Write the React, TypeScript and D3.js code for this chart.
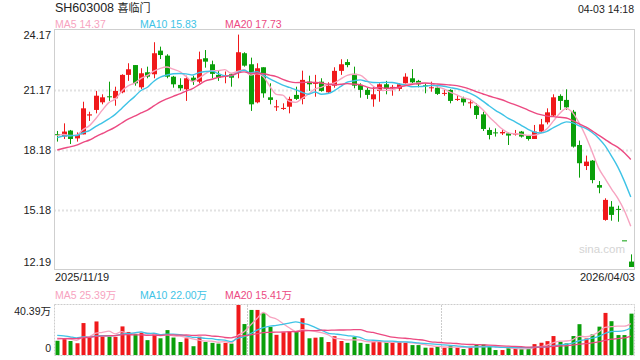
import React from 'react';
import * as d3 from 'd3';

const titleCode = 'SH603008';
const titleName = '喜临门';
const timeLabel = '04-03 14:18';
const dateLabels = ['2025/11/19', '2026/04/03'];
const priceTicks = [24.17, 21.175, 18.18, 15.185, 12.19];
const priceTickLabels = ['24.17', '21.17', '18.18', '15.18', '12.19'];
const volTicks = [40.39, 0];
const volTickLabels = ['40.39万', '0'];
const maNames = ['MA5', 'MA10', 'MA20'];
const maPeriods = [5, 10, 20];
const priceMaLabels = ['14.37', '15.83', '17.73'];
const volMaLabels = ['25.39万', '22.00万', '15.41万'];

const opens = [
  18.97, 18.85, 19.15, 18.76, 18.96, 19.90, 20.18, 20.56, 20.86, 20.76,
  21.06, 21.93, 22.42, 21.31, 22.06, 21.96, 23.14, 22.89, 21.84, 21.43,
  21.21, 21.79, 21.59, 22.76, 22.46, 21.93, 21.84, 21.96, 22.09, 23.01,
  22.46, 20.56, 22.31, 20.81, 20.33, 20.24, 20.34, 20.93, 20.73, 21.59,
  21.48, 21.59, 21.06, 21.39, 22.13, 22.57, 21.98, 21.43, 21.18, 20.71,
  21.13, 21.46, 21.26, 21.23, 21.51, 21.76, 21.63, 21.41, 21.28, 21.29,
  20.99, 21.18, 20.69, 20.76, 20.51, 20.38, 19.96, 19.18, 19.06, 19.01,
  19.01, 18.96, 19.10, 18.88, 18.73, 19.10, 19.56, 19.90, 20.88, 20.68,
  20.09, 18.43, 17.38, 17.65, 16.43, 14.69, 15.35, 15.24, 13.67, 12.61,
];
const highs = [
  19.13, 19.51, 19.18, 19.06, 20.59, 20.09, 21.13, 20.96, 21.59, 21.34,
  21.96, 22.51, 22.42, 22.26, 22.34, 23.56, 23.34, 22.96, 21.88, 21.76,
  21.89, 21.89, 23.09, 23.17, 22.64, 22.17, 22.10, 22.01, 23.94, 23.06,
  22.79, 22.51, 22.31, 21.51, 20.68, 20.51, 20.84, 21.34, 22.14, 21.89,
  21.93, 21.76, 21.56, 22.31, 22.71, 22.71, 22.34, 21.51, 21.29, 21.34,
  21.51, 21.63, 21.43, 21.51, 22.01, 22.22, 21.68, 21.51, 21.59, 21.39,
  21.18, 21.21, 20.93, 20.84, 20.73, 20.51, 20.09, 19.30, 19.26, 19.21,
  19.05, 19.18, 19.13, 18.93, 19.43, 19.73, 20.26, 20.96, 20.96, 21.21,
  20.18, 18.65, 17.90, 17.68, 16.63, 15.77, 15.63, 15.40, 13.67, 12.97,
];
const lows = [
  18.60, 18.73, 18.48, 18.60, 18.96, 19.63, 20.01, 20.46, 20.63, 20.39,
  21.01, 21.63, 21.39, 21.23, 21.76, 21.76, 22.72, 21.76, 21.29, 21.14,
  20.63, 21.43, 21.51, 22.29, 21.76, 21.63, 21.51, 21.34, 21.76, 22.34,
  20.13, 20.51, 20.79, 20.46, 20.13, 20.18, 20.01, 20.68, 20.46, 21.13,
  20.84, 21.09, 21.01, 21.29, 21.93, 22.31, 21.26, 20.79, 20.73, 20.34,
  20.59, 20.96, 20.89, 21.13, 21.48, 21.43, 21.31, 21.01, 21.09, 20.93,
  20.89, 20.51, 20.63, 20.39, 20.26, 19.73, 19.13, 18.71, 18.85, 18.93,
  18.43, 18.90, 18.80, 18.65, 18.73, 19.06, 19.46, 19.84, 20.18, 20.18,
  18.30, 16.80, 17.18, 16.52, 16.02, 14.65, 14.65, 14.60, 13.67, 12.34,
];
const closes = [
  18.95, 19.10, 18.73, 18.93, 20.26, 19.96, 20.89, 20.81, 20.81, 21.13,
  21.93, 22.21, 21.51, 22.01, 21.84, 23.01, 22.92, 21.84, 21.46, 21.26,
  21.76, 21.63, 22.71, 22.59, 21.98, 21.79, 21.89, 21.79, 23.06, 22.39,
  20.46, 22.26, 21.01, 20.68, 20.36, 20.28, 20.73, 20.73, 21.68, 21.46,
  21.54, 21.13, 21.39, 22.13, 22.46, 22.42, 21.39, 21.18, 20.93, 20.96,
  21.46, 21.26, 21.33, 21.46, 21.84, 21.56, 21.46, 21.36, 21.31, 20.98,
  21.03, 20.63, 20.73, 20.56, 20.56, 19.93, 19.23, 18.93, 19.03, 19.08,
  18.90, 19.00, 18.85, 18.73, 19.10, 19.46, 20.06, 20.81, 20.63, 20.31,
  18.35, 17.52, 17.60, 16.68, 16.30, 15.69, 14.94, 15.20, 13.67, 12.34,
];
// volume in 万
const volumes = [
  11.5, 13.5, 11.3, 9.5, 25.8, 14.2, 27.1, 14.7, 14.7, 14.7,
  23.1, 18.6, 16.8, 17.8, 12.0, 17.7, 13.5, 20.1, 14.1, 10.5,
  13.5, 7.1, 14.8, 10.5, 9.8, 9.2, 9.8, 9.2, 40.39, 25.0,
  36.4, 36.4, 33.7, 22.6, 16.3, 18.4, 19.0, 19.0, 29.7, 13.5,
  14.0, 14.4, 10.5, 15.2, 11.3, 9.8, 14.4, 9.8, 9.0, 10.6,
  10.8, 10.6, 9.9, 10.6, 9.9, 8.0, 8.0, 5.9, 5.9, 6.7,
  5.9, 7.5, 5.9, 4.8, 5.9, 8.6, 8.6, 6.7, 4.0, 4.0,
  5.9, 5.9, 4.8, 4.8, 8.8, 9.9, 11.2, 15.3, 10.7, 9.4,
  15.3, 24.9, 13.4, 16.6, 22.9, 34.0, 27.3, 16.1, 16.1, 33.4,
];
// sessions before the visible window (used only for moving averages)
const priorCloses = [
  17.3, 17.4, 17.2, 17.5, 17.6, 17.5, 17.7, 17.8, 17.7, 17.9,
  18.3, 18.6, 18.8, 18.9, 18.9, 18.8, 19.0, 18.84, 18.9,
];
const priorVolumes = [
  9.5, 10.8, 11.2, 9.8, 10.5, 10.0, 11.0, 10.2, 10.6, 10.4,
  16.5, 19.8, 17.2, 18.9, 17.35, 15.2, 13.8, 14.5, 13.25,
];

const RED = '#f0191b';
const GREEN = '#0a9f0a';
const MA_COLORS = ['#f7a3c0', '#3ec3e6', '#ec4a82'];
const FONT = "Arial, 'Liberation Sans', Helvetica, 'Noto Sans CJK SC', sans-serif";

function movingAvg(prior: number[], vals: number[], n: number): number[] {
  const all = prior.concat(vals);
  const off = prior.length;
  return vals.map((_, i) => {
    const end = off + i;
    const slice = all.slice(end - n + 1, end + 1);
    return d3.mean(slice) as number;
  });
}

export default function App() {
  const L = 54, R = 634, T = 30, B = 270;
  const VT = 305, VB = 355;
  const idx = d3.range(closes.length);
  const x = d3.scaleBand<number>().domain(idx).range([L, R]).padding(0);
  const xc = (i: number) => (x(i) as number) + x.bandwidth() / 2;
  const y = d3.scaleLinear().domain([12.19, 24.17]).range([B, T]);
  const yv = d3.scaleLinear().domain([0, 40.39]).range([VB, VT]);

  const priceMAs = maPeriods.map((p) => movingAvg(priorCloses, closes, p));
  const volMAs = maPeriods.map((p) => movingAvg(priorVolumes, volumes, p));

  const lineP = d3.line<number>().x((_, i) => xc(i)).y((v) => y(v)).curve(d3.curveMonotoneX);
  const lineV = d3.line<number>().x((_, i) => xc(i)).y((v) => yv(v)).curve(d3.curveMonotoneX);

  const isUp = (i: number) =>
    closes[i] > opens[i] || (closes[i] === opens[i] && i > 0 && closes[i] >= closes[i - 1]);

  const legendX = [55, 140, 225];

  return (
    <svg width={640} height={360} style={{ position: 'absolute', left: 0, top: 0, fontFamily: FONT }}>
      <rect x={0} y={0} width={640} height={360} fill="#fff" />
      {/* header */}
      <text x={55} y={12} fontSize={12.5} fill="#222">
        {titleCode + ' '}
        <tspan fontSize={11}>{titleName}</tspan>
      </text>
      <text x={634} y={12.5} fontSize={10.5} fill="#222" textAnchor="end">{timeLabel}</text>
      {maNames.map((n, k) => (
        <text key={n} x={legendX[k]} y={28} fontSize={10.5} fill={MA_COLORS[k]}>{n + ' ' + priceMaLabels[k]}</text>
      ))}

      {/* price grid */}
      {priceTicks.slice(1, -1).map((t) => (
        <line key={t} x1={L} x2={R} y1={Math.round(y(t)) + 0.5} y2={Math.round(y(t)) + 0.5}
          stroke="#e2e2e2" strokeWidth={2} strokeDasharray="2,2" />
      ))}
      <rect x={L + 0.5} y={T - 0.5} width={R - L} height={B - T} fill="none" stroke="#cfcfcf" strokeWidth={1} />
      {priceTicks.map((t, k) => {
        const yy = Math.min(Math.max(y(t) + 3.7, T + 9), B - 4);
        return (
          <text key={t} x={51} y={yy} fontSize={11} fill="#222" textAnchor="end">{priceTickLabels[k]}</text>
        );
      })}

      {/* watermark */}
      <text x={602} y={253} fontSize={11.5} fill="#d4d4d4" textAnchor="middle">sina.com</text>

      {/* candles */}
      {idx.map((i) => {
        const c = Math.round(xc(i));
        const col = isUp(i) ? RED : GREEN;
        const top = y(Math.max(opens[i], closes[i]));
        const bot = y(Math.min(opens[i], closes[i]));
        const h = Math.max(1, bot - top);
        return (
          <g key={i}>
            <line x1={c + 0.5} x2={c + 0.5} y1={y(highs[i])} y2={y(lows[i])} stroke={col} strokeWidth={1} />
            <rect x={c - 2} y={top} width={5} height={h} fill={col} />
          </g>
        );
      })}
      {priceMAs.map((m, k) => (
        <path key={k} d={lineP(m) as string} fill="none" stroke={MA_COLORS[k]} strokeWidth={1.4} />
      ))}

      {/* dates */}
      <text x={55} y={281} fontSize={11} fill="#222">{dateLabels[0]}</text>
      <text x={635} y={281} fontSize={11} fill="#222" textAnchor="end">{dateLabels[1]}</text>

      {/* volume panel */}
      {maNames.map((n, k) => (
        <text key={n} x={legendX[k]} y={299} fontSize={10.5} fill={MA_COLORS[k]}>{n + ' ' + volMaLabels[k]}</text>
      ))}
      <rect x={L + 0.5} y={VT - 0.5} width={R - L} height={VB - VT + 1} fill="none" stroke="#cccccc" strokeWidth={1} strokeDasharray="2,1" />
      {[1, 2].map((k) => {
        const xx = Math.round(L + ((R - L) * k) / 3) + 0.5;
        return <line key={k} x1={xx} x2={xx} y1={VT} y2={VB} stroke="#cccccc" strokeDasharray="2,1" />;
      })}
      {volTicks.map((t, k) => (
        <text key={k} x={51} y={k === 0 ? 314.5 : 351.5} fontSize={10.5} fill="#222" textAnchor="end">{volTickLabels[k]}</text>
      ))}
      {idx.map((i) => {
        const c = Math.round(xc(i));
        const col = isUp(i) ? RED : GREEN;
        return <rect key={i} x={c - 1.5} y={yv(volumes[i])} width={4} height={VB - yv(volumes[i])} fill={col} />;
      })}
      {volMAs.map((m, k) => (
        <path key={k} d={lineV(m) as string} fill="none" stroke={MA_COLORS[k]} strokeWidth={1.3} />
      ))}
    </svg>
  );
}
